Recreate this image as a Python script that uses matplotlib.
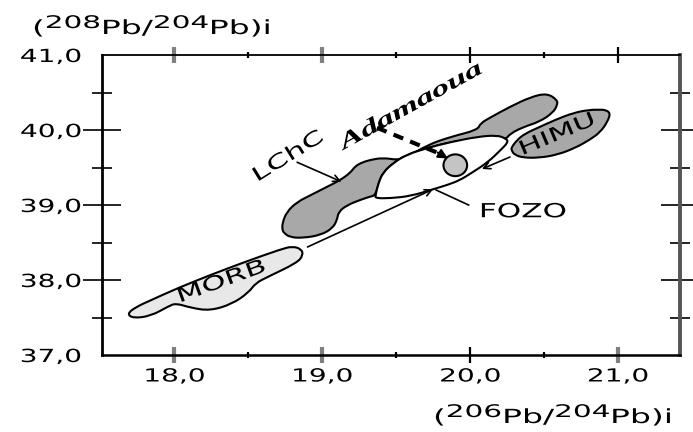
import matplotlib
matplotlib.use("Agg")
import matplotlib.pyplot as plt
from matplotlib.patches import PathPatch, Ellipse
from matplotlib.path import Path
from matplotlib.patheffects import AbstractPathEffect
from matplotlib.transforms import Affine2D

# ---- data (206Pb/204Pb, 208Pb/204Pb) ----
morb_x = [17.68, 17.74, 17.84, 18.02, 18.26, 18.49, 18.72, 18.80, 18.86, 18.87, 18.83,
          18.63, 18.55, 18.50, 18.39, 18.24, 18.11, 18.01, 17.96, 17.84, 17.72]
morb_y = [37.55, 37.64, 37.73, 37.89, 38.08, 38.25, 38.41, 38.45, 38.41, 38.33, 38.23,
          38.04, 37.96, 37.83, 37.68, 37.59, 37.63, 37.69, 37.65, 37.52, 37.49]

lchc_x = [18.73, 18.73, 18.76, 18.83, 18.92, 19.03, 19.12, 19.19, 19.22, 19.26,
          19.32, 19.41, 19.51, 19.57, 19.71, 19.87, 20.05, 20.07, 20.14, 20.27,
          20.41, 20.52, 20.59, 20.59, 20.56, 20.47, 20.36, 20.27, 20.24,
          20.18, 20.05, 19.87, 19.71, 19.57, 19.48, 19.41, 19.38, 19.36,
          19.32, 19.26, 19.17, 19.11, 19.10, 19.07, 18.99, 18.87, 18.78, 18.74]
lchc_y = [38.67, 38.76, 38.91, 39.04, 39.13, 39.24, 39.33, 39.43, 39.51, 39.56,
          39.60, 39.63, 39.60, 39.63, 39.80, 39.91, 40.00, 40.09, 40.17, 40.31,
          40.44, 40.49, 40.40, 40.33, 40.23, 40.11, 40.04, 39.95, 39.87,
          39.93, 39.89, 39.84, 39.76, 39.67, 39.56, 39.43, 39.29, 39.13,
          39.11, 39.07, 39.00, 38.91, 38.80, 38.69, 38.60, 38.56, 38.57, 38.63]

fozo_x = [19.36, 19.38, 19.41, 19.48, 19.57, 19.71, 19.87, 20.05, 20.18, 20.24,
          20.26, 20.20, 20.12, 20.02, 19.93, 19.85, 19.75, 19.60, 19.46, 19.36]
fozo_y = [39.13, 39.29, 39.43, 39.56, 39.67, 39.76, 39.84, 39.91, 39.93, 39.89,
          39.84, 39.72, 39.57, 39.44, 39.33, 39.27, 39.21, 39.12, 39.09, 39.09]

himu_x = [20.28, 20.30, 20.36, 20.47, 20.59, 20.71, 20.81, 20.88, 20.93, 20.95,
          20.91, 20.88, 20.81, 20.70, 20.57, 20.47, 20.37, 20.32, 20.28]
himu_y = [39.73, 39.67, 39.63, 39.63, 39.67, 39.76, 39.87, 39.97, 40.11, 40.23,
          40.27, 40.27, 40.27, 40.23, 40.13, 40.04, 39.95, 39.87, 39.77]

adamaoua_xy = (19.90, 39.53)
adamaoua_w, adamaoua_h = 0.16, 0.29

xticks = [18, 19, 20, 21]
xminor = [18.5, 19.5, 20.5]
yticks = [37, 38, 39, 40, 41]
yminor = [37.5, 38.5, 39.5, 40.5]
xlabels = ["18,0", "19,0", "20,0", "21,0"]
ylabels = ["37,0", "38,0", "39,0", "40,0", "41,0"]


class Stretch(AbstractPathEffect):
    """Widen glyphs horizontally (the source picture is stretched)."""

    def __init__(self, sx=1.6, anchor="center"):
        super().__init__()
        self.sx = sx
        self.anchor = anchor

    def draw_path(self, renderer, gc, tpath, affine, rgbFace=None):
        ext = tpath.get_extents()
        cx = {"left": 0.0, "center": (ext.x0 + ext.x1) / 2, "right": ext.x1}[self.anchor]
        pre = Affine2D().translate(-cx, 0).scale(self.sx, 1).translate(cx, 0)
        renderer.draw_path(gc, tpath, pre + affine, rgbFace)


def smooth(xs, ys, **kw):
    # closed quadratic-bezier outline using the traced points as control points
    pts = list(zip(xs, ys))
    n = len(pts)
    mids = [((pts[i][0] + pts[(i + 1) % n][0]) / 2, (pts[i][1] + pts[(i + 1) % n][1]) / 2)
            for i in range(n)]
    verts, codes = [mids[-1]], [Path.MOVETO]
    for i in range(n):
        verts += [pts[i], mids[i]]
        codes += [Path.CURVE3, Path.CURVE3]
    verts.append(mids[-1])
    codes.append(Path.CLOSEPOLY)
    return PathPatch(Path(verts, codes), **kw)


# ---- figure ----
W, H = 693, 432
fig = plt.figure(figsize=(W / 100, H / 100), dpi=100)
ax = fig.add_axes([102 / W, 77 / H, 578 / W, 300 / H])
ax.set_xlim(17.51, 21.42)
ax.set_ylim(37, 41)

dark, light = "#a8a8a8", "#e8e8e8"
ax.add_patch(smooth(morb_x, morb_y, fc=light, ec="black", lw=1.5, zorder=2))
ax.add_patch(smooth(lchc_x, lchc_y, fc=dark, ec="black", lw=1.5, zorder=2))
ax.add_patch(smooth(fozo_x, fozo_y, fc="white", ec="black", lw=1.5, zorder=3))
ax.add_patch(smooth(himu_x, himu_y, fc=dark, ec="black", lw=1.5, zorder=3))
ax.add_patch(Ellipse(adamaoua_xy, adamaoua_w, adamaoua_h, fc="#c4c4c4", ec="black", lw=1.5, zorder=4))

# mixing line MORB -> FOZO <- HIMU, label arrows
arr = dict(arrowstyle="->", color="black", lw=1.2, shrinkA=0, shrinkB=0, mutation_scale=12)
ax.annotate("", xy=(19.75, 39.21), xytext=(18.90, 38.44), arrowprops=arr, zorder=5)
ax.annotate("", xy=(20.08, 39.48), xytext=(20.27, 39.64), arrowprops=arr, zorder=5)
ax.annotate("", xy=(19.13, 39.31), xytext=(18.83, 39.57), arrowprops=arr, zorder=5)
ax.plot([19.99, 19.77], [39.00, 39.20], color="black", lw=1.2, zorder=5)

# Adamaoua dashed arrow
ax.plot([19.37, 19.80], [40.03, 39.68], color="black", lw=3, ls=(0, (2.5, 1.8)), zorder=5)
ax.annotate("", xy=(19.85, 39.62), xytext=(19.78, 39.70),
            arrowprops=dict(arrowstyle="-|>", color="black", lw=1.5, shrinkA=0, shrinkB=0,
                            mutation_scale=14), zorder=5)

# labels on the plot
st = [Stretch(1.6)]
ax.text(18.32, 37.98, "MORB", fontsize=14, rotation=20, ha="center", va="center", zorder=6, path_effects=st)
ax.text(18.77, 39.65, "LChC", fontsize=14, rotation=32, ha="center", va="center", zorder=6, path_effects=st)
ax.text(20.59, 39.94, "HIMU", fontsize=14, rotation=23, ha="center", va="center", zorder=6, path_effects=st)
ax.text(20.36, 38.91, "FOZO", fontsize=14, ha="center", va="center", zorder=6, path_effects=st)
ax.text(19.60, 40.31, "Adamaoua", fontsize=16, rotation=29, ha="center", va="center",
        family="Liberation Serif", style="italic", weight="bold", zorder=6, path_effects=st)

# ---- axes styling ----
ax.set_xticks(xticks)
ax.set_xticklabels(xlabels)
ax.set_xticks(xminor, minor=True)
ax.set_yticks(yticks)
ax.set_yticklabels(ylabels)
ax.set_yticks(yminor, minor=True)

ax.tick_params(axis="x", which="major", direction="inout", length=12, width=1.6,
               top=True, labelsize=13, pad=3)
ax.tick_params(axis="x", which="minor", direction="inout", length=5, width=1.6, top=True)
ax.tick_params(axis="y", which="major", direction="inout", length=28, width=1.2,
               right=True, labelsize=13, pad=1)
ax.tick_params(axis="y", which="minor", direction="inout", length=15, width=1.2, right=True)
for lab in ax.get_xticklabels():
    lab.set_path_effects([Stretch(1.55, "center")])
for lab in ax.get_yticklabels():
    lab.set_path_effects([Stretch(1.55, "right")])

for i, t in enumerate(ax.xaxis.get_major_ticks()):
    if xticks[i] != 20:
        t.tick1line.set_markeredgecolor("#808080")
        t.tick1line.set_markeredgewidth(3)
        if xticks[i] != 21:
            t.tick2line.set_markeredgecolor("#808080")
            t.tick2line.set_markeredgewidth(3)
for i, t in enumerate(ax.yaxis.get_major_ticks()):
    if yticks[i] in (37, 41):
        t.tick1line.set_visible(False)
        t.tick2line.set_visible(False)

ax.spines["left"].set_linewidth(2)
ax.spines["bottom"].set_linewidth(1.8)
ax.spines["top"].set_linewidth(1.3)
ax.spines["right"].set_linewidth(2.8)
ax.spines["right"].set_color("#555555")

# ---- axis titles: (208Pb/204Pb)i and (206Pb/204Pb)i, built piece by piece ----
renderer = fig.canvas.get_renderer()


def ratio_label(x0, base, parts, sx=1.7):
    x = x0
    for s, up in parts:
        size = 12.5 if up else 14
        y = base - (6 if up else 0)
        t = fig.text(x / W, 1 - y / H, s, fontsize=size, va="baseline", ha="left",
                     path_effects=[Stretch(sx, "left")])
        x += t.get_window_extent(renderer).width * sx


ratio_label(32, 34, [("(", False), ("208", True), ("Pb/", False), ("204", True), ("Pb)i", False)])
ratio_label(433, 423, [("(", False), ("206", True), ("Pb/", False), ("204", True), ("Pb)i", False)])

fig.savefig("out.png", dpi=100)
